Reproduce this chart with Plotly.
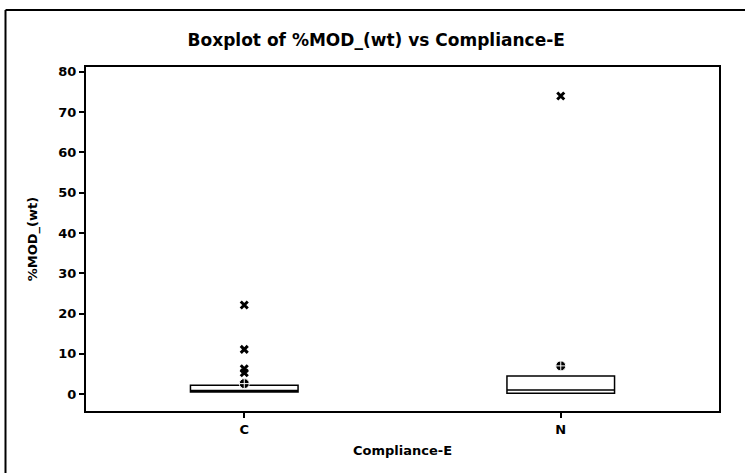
import plotly.graph_objects as go

categories = ["C", "N"]
q1 = [0.5, 0.2]
median = [0.9, 1.0]
q3 = [2.2, 4.5]
lowerfence = [0.5, 0.2]
upperfence = [2.2, 4.5]
means = [2.6, 7.0]
outlier_cat = ["C", "C", "C", "C", "N"]
outlier_val = [22.1, 11.1, 6.3, 5.3, 74.0]
yticks = [0, 10, 20, 30, 40, 50, 60, 70, 80]

FONT = "DejaVu Sans"

fig = go.Figure()
fig.add_trace(go.Box(
    x=categories, q1=q1, median=median, q3=q3,
    lowerfence=lowerfence, upperfence=upperfence,
    width=0.34, fillcolor="white",
    line=dict(color="black", width=1.5),
    boxpoints=False, showlegend=False, hoverinfo="skip",
))
fig.add_trace(go.Scatter(
    x=categories, y=means, mode="markers",
    marker=dict(symbol="circle-cross", size=10, color="black",
                line=dict(color="white", width=1)),
    showlegend=False,
))
fig.add_trace(go.Scatter(
    x=outlier_cat, y=outlier_val, mode="markers",
    marker=dict(symbol="x-thin-open", size=7, color="black",
                line=dict(color="black", width=3)),
    showlegend=False,
))

L, R, T, B = 86, 26, 67, 62
W, H = 745, 473
pw, ph = W - L - R, H - T - B

def px2x(px):
    return (px - L) / pw

def px2y(py):
    return (H - B - py) / ph

fig.update_layout(
    width=W, height=H,
    margin=dict(l=L, r=R, t=T, b=B),
    paper_bgcolor="white", plot_bgcolor="white",
    font=dict(family=FONT, color="black", size=12),
    title=dict(text="<b>Boxplot of %MOD_(wt) vs Compliance-E</b>",
               x=0.505, xanchor="center", y=1 - 40 / H, yanchor="middle",
               font=dict(family=FONT, size=17, color="black")),
    xaxis=dict(
        type="category", categoryorder="array", categoryarray=categories,
        range=[-0.5, 1.5], showgrid=False, zeroline=False,
        showline=True, linecolor="black", linewidth=2, mirror=True,
        ticks="outside", ticklen=5, tickcolor="black", tickwidth=1.5,
        tickvals=categories, ticktext=["<b>%s</b>" % c for c in categories],
        tickfont=dict(family=FONT, size=13, color="black"),
        title=dict(text="<b>Compliance-E</b>", standoff=10,
                   font=dict(family=FONT, size=13, color="black")),
    ),
    yaxis=dict(
        range=[-4.2, 81.2], tickvals=yticks,
        ticktext=["<b>%d</b>" % v for v in yticks],
        showgrid=False, zeroline=False,
        showline=True, linecolor="black", linewidth=2, mirror=True,
        ticks="outside", ticklen=5, tickcolor="black", tickwidth=1.5,
        tickfont=dict(family=FONT, size=13, color="black"),
        title=dict(text="<b>%MOD_(wt)</b>", standoff=18,
                   font=dict(family=FONT, size=13, color="black")),
    ),
    shapes=[
        dict(type="line", xref="paper", yref="paper",
             x0=px2x(5.5), x1=px2x(750), y0=px2y(10), y1=px2y(10),
             line=dict(color="black", width=2)),
        dict(type="line", xref="paper", yref="paper",
             x0=px2x(5.5), x1=px2x(5.5), y0=px2y(10), y1=px2y(480),
             line=dict(color="black", width=2)),
    ],
)

fig.write_html("out.html")
